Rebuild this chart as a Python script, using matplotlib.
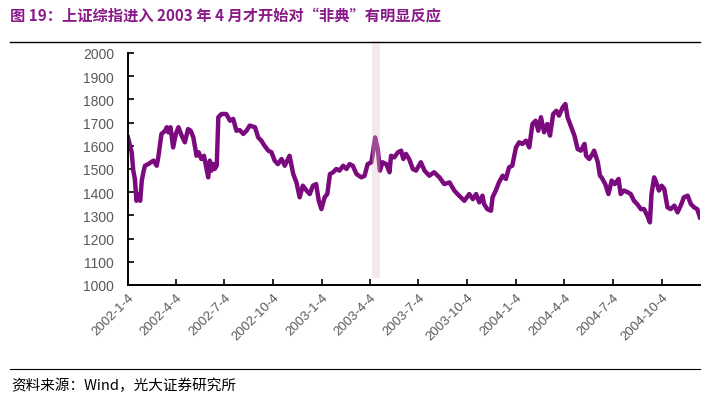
import matplotlib
matplotlib.use('Agg')
import matplotlib.pyplot as plt
import pandas as pd

# Shanghai Composite (days counted from 2002-01-04)
day_offsets = [0, 3, 7, 10, 13, 16, 19, 23, 26, 29, 32, 38, 48, 54, 57, 63, 70, 73, 76, 80,
               85, 90, 95, 101, 107, 113, 118, 123, 129, 133, 138, 143, 146, 151, 154, 157,
               160, 163, 167, 170, 176, 185, 192, 198, 204, 210, 217, 223, 229, 239, 245,
               251, 257, 264, 270, 276, 282, 289, 295, 304, 311, 317, 323, 329, 336, 342,
               348, 354, 359, 364, 370, 375, 380, 386, 392, 398, 405, 411, 417, 423, 430,
               439, 445, 451, 458, 461, 465, 470, 474, 479, 486, 492, 495, 501, 508, 514,
               518, 523, 529, 536, 542, 551, 558, 567, 576, 586, 595, 605, 614, 623, 633,
               642, 649, 655, 661, 667, 670, 676, 683, 686, 692, 698, 705, 711, 717, 723,
               730, 736, 742, 749, 755, 761, 767, 772, 777, 783, 789, 794, 800, 806, 811,
               818, 823, 827, 833, 840, 846, 852, 859, 862, 868, 874, 877, 884, 888, 891,
               898, 904, 910, 916, 923, 927, 933, 940, 946, 952, 958, 965, 971, 977, 982,
               985, 990, 994, 999, 1004, 1009, 1015, 1021, 1028, 1034, 1040, 1046, 1053,
               1059, 1065, 1071, 1076]
index_values = [1636, 1608, 1572, 1493, 1457, 1363, 1392, 1363, 1450, 1486, 1514, 1521, 1536,
                1514, 1550, 1651, 1665, 1680, 1658, 1680, 1593, 1651, 1680, 1644, 1615, 1672,
                1665, 1636, 1557, 1572, 1543, 1557, 1522, 1464, 1536, 1493, 1522, 1500, 1514,
                1723, 1737, 1737, 1708, 1716, 1665, 1668, 1651, 1665, 1687, 1680, 1636, 1622,
                1600, 1579, 1572, 1536, 1521, 1543, 1514, 1557, 1478, 1442, 1378, 1428, 1407,
                1392, 1428, 1435, 1363, 1327, 1378, 1392, 1478, 1486, 1500, 1493, 1514, 1500,
                1521, 1514, 1478, 1464, 1470, 1521, 1529, 1572, 1636, 1586, 1493, 1529, 1521,
                1486, 1557, 1550, 1572, 1579, 1543, 1565, 1543, 1500, 1493, 1529, 1493, 1471,
                1486, 1464, 1435, 1442, 1407, 1385, 1363, 1392, 1370, 1392, 1356, 1385, 1349,
                1327, 1320, 1378, 1407, 1442, 1471, 1457, 1507, 1514, 1593, 1615, 1608, 1622,
                1593, 1694, 1708, 1665, 1723, 1658, 1694, 1644, 1737, 1751, 1730, 1766, 1780,
                1723, 1687, 1644, 1586, 1579, 1608, 1557, 1543, 1565, 1579, 1529, 1471, 1464,
                1435, 1392, 1450, 1435, 1457, 1392, 1407, 1400, 1392, 1363, 1349, 1327, 1327,
                1299, 1270, 1392, 1464, 1442, 1407, 1428, 1414, 1335, 1327, 1342, 1313, 1342,
                1378, 1385, 1349, 1335, 1327, 1292]

tick_dates = ['2002-1-4', '2002-4-4', '2002-7-4', '2002-10-4', '2003-1-4', '2003-4-4',
              '2003-7-4', '2003-10-4', '2004-1-4', '2004-4-4', '2004-7-4', '2004-10-4']
sars_start = '2003-04-09'
sars_end = '2003-04-24'

dates = pd.Timestamp('2002-01-04') + pd.to_timedelta(day_offsets, unit='D')

plt.rcParams['font.family'] = ['Liberation Sans', 'Noto Sans CJK SC', 'DejaVu Sans']

fig = plt.figure(figsize=(7.23, 4.02), dpi=100)
ax = fig.add_axes([0.177, 0.2886, 0.791, 0.5771])

ax.plot(dates, index_values, color='#7a0a7d', linewidth=3.2, solid_joinstyle='round', zorder=2)

band = ax.fill_between([pd.Timestamp(sars_start), pd.Timestamp(sars_end)], 1030, 2052,
                       color='#e2c0c0', alpha=0.35, linewidth=0, zorder=3)
band.set_clip_on(False)

ax.set_ylim(1000, 2000)
ax.set_yticks(range(1000, 2001, 100))
ax.set_xlim(dates[0], dates[-1])
ax.set_xticks([pd.Timestamp(d) for d in tick_dates])
ax.set_xticklabels(tick_dates, rotation=45, ha='right', rotation_mode='anchor')

for s in ['top', 'right']:
    ax.spines[s].set_visible(False)
for s in ['left', 'bottom']:
    ax.spines[s].set_linewidth(1.4)
ax.tick_params(axis='both', direction='in', length=4, width=1.2, labelsize=10,
               labelcolor='#595959')
ax.tick_params(axis='x', labelsize=9.5, pad=4)
ax.tick_params(axis='y', pad=10)

fig.text(0.014, 0.958, '图 19：上证综指进入 2003 年 4 月才开始对“非典”有明显反应',
         fontsize=11, fontweight='bold', color='#8a1a89', va='center',
         family=['Noto Sans CJK SC', 'DejaVu Sans'])
fig.add_artist(plt.Line2D([0.014, 0.968], [0.892, 0.892], color='black', linewidth=1))
fig.add_artist(plt.Line2D([0.014, 0.968], [0.080, 0.080], color='black', linewidth=0.8))
fig.text(0.016, 0.040, '资料来源：Wind，光大证券研究所', fontsize=10.5, color='black',
         va='center', family=['Noto Sans CJK SC', 'DejaVu Sans'])

plt.savefig('out.png', dpi=100)
